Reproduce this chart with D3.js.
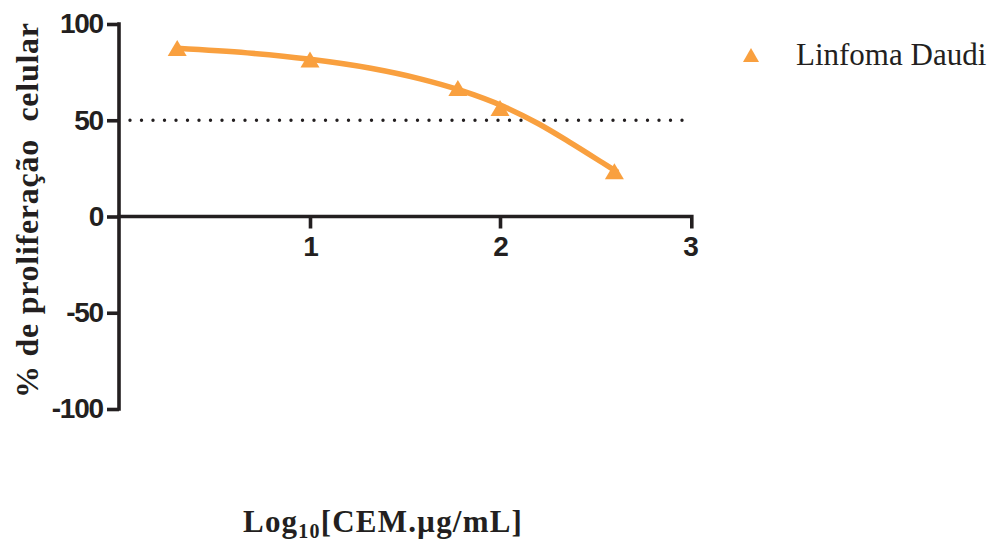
<!DOCTYPE html>
<html>
<head>
<meta charset="utf-8">
<script src="https://cdn.jsdelivr.net/npm/d3@7"></script>
<style>
  html, body { margin: 0; padding: 0; background: #ffffff; }
  svg { display: block; }
</style>
</head>
<body>
<svg id="chart" width="991" height="543"></svg>
<script>
// Measured points: concentration (µg/mL) and % cell proliferation
const concentrations = [2, 10, 60, 100, 400];
const proliferation = [87.5, 81.5, 66.8, 56.4, 23.5];

// Fitted dose-response curve (log10 dose, % proliferation)
const fitLogDose = [0.30, 0.67, 0.99, 1.32, 1.58, 1.79, 2.02, 2.20, 2.37, 2.54, 2.62];
const fitProliferation = [87.4, 85.0, 81.8, 77.0, 71.5, 65.6, 57.1, 48.3, 38.4, 27.9, 22.9];

// Axis ticks and reference level
const xTicks = [1, 2, 3];
const yTicks = [-100, -50, 0, 50, 100];
const halfLevel = 50;

const seriesName = "Linfoma Daudi";

const ink = "#231f20";
const orange = "#f9a03f";

const svg = d3.select("#chart");

const x = d3.scaleLinear().domain([0, 3]).range([120, 690]);
const y = d3.scaleLinear().domain([-100, 100]).range([409, 24]);

// integer labels with a plain hyphen for negatives
const fmt = d => String(d);

// 50 % reference line (dotted)
svg.append("line")
  .attr("x1", 130).attr("x2", 692)
  .attr("y1", y(halfLevel)).attr("y2", y(halfLevel))
  .attr("stroke", ink)
  .attr("stroke-width", 3.4)
  .attr("stroke-linecap", "round")
  .attr("stroke-dasharray", "0 11.5");

// Y axis
const yAxis = svg.append("g")
  .attr("transform", `translate(${x(0) - 1},0)`)
  .call(d3.axisLeft(y).tickValues(yTicks).tickFormat(fmt)
    .tickSize(12).tickPadding(4).tickSizeOuter(0));

// X axis along y = 0
const xAxis = svg.append("g")
  .attr("transform", `translate(0,${y(0)})`)
  .call(d3.axisBottom(x).tickValues(xTicks).tickFormat(fmt)
    .tickSize(12).tickPadding(8).tickSizeOuter(0));

[yAxis, xAxis].forEach(g => {
  g.select(".domain").attr("stroke", ink).attr("stroke-width", 3.6);
  g.selectAll(".tick line").attr("stroke", ink).attr("stroke-width", 3.6);
  g.selectAll(".tick text")
    .attr("fill", ink)
    .style("font-family", "'Liberation Sans', Arial, sans-serif")
    .style("font-weight", "bold")
    .style("font-size", "28px")
    .style("letter-spacing", "-1.2px");
});
// extend the x-axis line to meet the y axis and close at the last tick
xAxis.select(".domain").attr("d", `M${x(0) - 2.8},0H${x(3) + 1.8}V12`);
xAxis.selectAll(".tick").filter(d => d === 3).select("line").remove();
yAxis.select(".domain").attr("d", `M0,${y(100) - 1.8}V${y(-100) + 1.8}`);

// Fitted curve
const line = d3.line()
  .x(d => x(d[0]))
  .y(d => y(d[1]))
  .curve(d3.curveMonotoneX);

svg.append("path")
  .datum(fitLogDose.map((v, i) => [v, fitProliferation[i]]))
  .attr("d", line)
  .attr("fill", "none")
  .attr("stroke", orange)
  .attr("stroke-width", 5.5)
  .attr("stroke-linecap", "butt");

// Triangle markers
const tri = (h, w) => `M0,${-h}L${w},${h}L${-w},${h}Z`;

svg.append("g").selectAll("path")
  .data(concentrations.map((c, i) => [Math.log10(c), proliferation[i]]))
  .join("path")
  .attr("transform", d => `translate(${x(d[0])},${y(d[1])})`)
  .attr("d", tri(8, 9.5))
  .attr("fill", orange);

// Legend
svg.append("path")
  .attr("transform", "translate(751,55)")
  .attr("d", tri(7, 8))
  .attr("fill", orange);
svg.append("text")
  .attr("x", 796).attr("y", 65)
  .attr("fill", ink)
  .style("font-family", "'Liberation Serif', 'Times New Roman', serif")
  .style("font-size", "31px")
  .text(seriesName);

// Y-axis title (double space kept between the words)
svg.append("text")
  .attr("transform", "translate(38,210.5) rotate(-90)")
  .attr("text-anchor", "middle")
  .attr("fill", ink)
  .attr("textLength", 375)
  .attr("lengthAdjust", "spacing")
  .style("white-space", "pre")
  .style("font-family", "'Liberation Serif', 'Times New Roman', serif")
  .style("font-weight", "bold")
  .style("font-size", "32px")
  .text("% de proliferação  celular");

// X-axis title
const xt = svg.append("text")
  .attr("x", 243).attr("y", 532)
  .attr("fill", ink)
  .style("font-family", "'Liberation Serif', 'Times New Roman', serif")
  .style("font-weight", "bold")
  .style("font-size", "31px")
  .style("letter-spacing", "1.2px");
xt.append("tspan").text("Log");
xt.append("tspan").attr("dy", 6).style("font-size", "20px").text("10");
xt.append("tspan").attr("dy", -6).text("[CEM.µg/mL]");
</script>
</body>
</html>
